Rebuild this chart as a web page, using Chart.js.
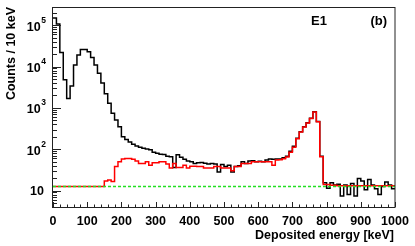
<!DOCTYPE html>
<html>
<head>
<meta charset="utf-8">
<script src="https://cdn.jsdelivr.net/npm/chart.js@4.4.1/dist/chart.umd.min.js"></script>
<style>
  html, body { margin: 0; padding: 0; background: #fff; }
</style>
</head>
<body>
<canvas id="chart-spectrum" width="415" height="246"></canvas>
<script>
// Spectre E1 — 100 bins de 10 keV, 0 à 1000 keV
const binWidth = 10;
const nBins = 100;

const totalCounts = [
  150000, 107000, 22000, 4800, 1700, 3400, 11000, 19000, 26000, 26000,
  23000, 16500, 11000, 6900, 4000, 2200, 1300, 740, 510, 350,
  200, 173, 150, 132, 120, 112, 106, 102, 97, 85,
  80, 76, 75, 68, 66, 36, 74, 64, 57, 52,
  50, 45, 47, 48, 46, 44, 45, 44, 28, 43,
  38, 41, 28, 38, 40, 50, 45, 52, 53, 50,
  51, 50, 55, 58, 57, 58, 58, 62, 68, 90,
  118, 185, 265, 350, 440, 565, 810, 470, 68, 15.5,
  11.3, 15.5, 13.6, 14.3, 7.4, 13.6, 8, 14.8, 7.4, 19.7,
  17, 10.5, 18.5, 13.6, 11, 8, 12.6, 16, 13.6, 11,
];

const selectedCounts = [
  12.5, 12.5, 12.5, 12.5, 12.5, 12.5, 12.5, 12.5, 12.5, 12.5,
  12.5, 12.5, 12.5, 12.5, 12.5, 17, 18, 16.5, 38, 50,
  58, 60, 60, 57, 52, 45, 45, 50, 41, 47,
  47, 50, 50, 44, 35, 45, 36, 36, 41, 35,
  39, 39, 38, 38, 35, 35, 35, 38, 38, 35,
  35, 35, 30, 38, 38, 45, 45, 45, 50, 50,
  50, 50, 50, 50, 41, 55, 56, 59, 65, 85,
  112, 180, 260, 345, 430, 555, 800, 460, 66, 14,
  14, 13.5, 13.5, 13, 13, 13, 13, 13, 13, 13,
  13, 13, 13, 13, 13, 13, 13, 13, 13, 13,
];

const backgroundLevel = 12.5;

const xTickLabels = ['0', '100', '200', '300', '400', '500', '600', '700', '800', '900', '1000'];
const yTickExponents = [1, 2, 3, 4, 5];

function toSteps(counts) {
  const pts = counts.map((v, i) => ({ x: i * binWidth, y: v }));
  pts.push({ x: nBins * binWidth, y: counts[counts.length - 1] });
  return pts;
}

const FONT = '"Liberation Sans", Arial, sans-serif';

const rootAxes = {
  id: 'rootAxes',
  afterDatasetsDraw(chart) {
    const { ctx, chartArea: a, scales: { x, y } } = chart;
    ctx.save();
    ctx.strokeStyle = '#222';
    ctx.lineWidth = 1;
    ctx.strokeRect(a.left - 0.5, a.top + 0.5, a.right - a.left + 0.5, a.bottom - a.top);

    // ticks x (vers l'intérieur)
    ctx.beginPath();
    for (let v = 0; v <= 1000; v += 20) {
      const px = Math.round(x.getPixelForValue(v)) + 0.5;
      const len = v % 100 === 0 ? 5 : 2.5;
      ctx.moveTo(px, a.bottom);
      ctx.lineTo(px, a.bottom - len);
    }
    // ticks y (log)
    for (let e = 0; e <= 5; e++) {
      for (let m = 1; m <= 9; m++) {
        const v = m * 10 ** e;
        if (v < y.min || v > y.max) continue;
        const py = Math.round(y.getPixelForValue(v)) + 0.5;
        ctx.moveTo(a.left, py);
        ctx.lineTo(a.left + (m === 1 ? 8 : 4), py);
      }
    }
    ctx.stroke();

    ctx.fillStyle = '#000';
    // labels x
    ctx.font = `bold 12.5px ${FONT}`;
    ctx.textAlign = 'center';
    ctx.textBaseline = 'middle';
    xTickLabels.forEach((lab) => {
      ctx.fillText(lab, x.getPixelForValue(Number(lab)), 222);
    });

    // labels y 10^n
    const right = a.left - 7;
    yTickExponents.forEach((e) => {
      const py = y.getPixelForValue(10 ** e);
      ctx.textBaseline = 'middle';
      if (e === 1) {
        ctx.font = `bold 12.5px ${FONT}`;
        ctx.textAlign = 'right';
        ctx.fillText('10', right - 2, py + 1);
        return;
      }
      ctx.font = `bold 8.5px ${FONT}`;
      const expW = ctx.measureText(String(e)).width;
      ctx.textAlign = 'right';
      ctx.fillText(String(e), right, py - 5);
      ctx.font = `bold 12.5px ${FONT}`;
      ctx.fillText('10', right - expW - 0.5, py + 2);
    });

    // titres
    ctx.font = `bold 12.5px ${FONT}`;
    ctx.textAlign = 'right';
    ctx.textBaseline = 'middle';
    ctx.fillText('Deposited energy [keV]', a.right - 1, 236);

    ctx.save();
    ctx.translate(12, a.top);
    ctx.rotate(-Math.PI / 2);
    ctx.textAlign = 'right';
    ctx.fillText('Counts / 10 keV', 0, 0);
    ctx.restore();

    ctx.font = `bold 13px ${FONT}`;
    ctx.textAlign = 'center';
    ctx.fillText('E1', 319, 21);
    ctx.textAlign = 'right';
    ctx.fillText('(b)', 387, 21);
    ctx.restore();
  },
};

new Chart(document.getElementById('chart-spectrum'), {
  type: 'line',
  data: {
    datasets: [
      {
        label: 'Background',
        data: [{ x: 0, y: backgroundLevel }, { x: 1000, y: backgroundLevel }],
        borderColor: '#22e022',
        borderWidth: 1.5,
        borderDash: [3, 2],
        order: 0,
      },
      {
        label: 'Selected',
        data: toSteps(selectedCounts),
        borderColor: '#ff0000',
        borderWidth: 1.5,
        stepped: 'before',
        order: 1,
      },
      {
        label: 'All',
        data: toSteps(totalCounts),
        borderColor: '#000000',
        borderWidth: 1.5,
        stepped: 'before',
        order: 2,
      },
    ],
  },
  options: {
    responsive: false,
    animation: false,
    devicePixelRatio: 1,
    layout: { padding: { left: 53, right: 20, top: 7, bottom: 39 } },
    elements: { point: { radius: 0 }, line: { tension: 0, fill: false } },
    plugins: { legend: { display: false }, tooltip: { enabled: false } },
    scales: {
      x: { type: 'linear', min: 0, max: 1000, display: false },
      y: { type: 'logarithmic', min: 4, max: 2.77e5, display: false },
    },
  },
  plugins: [rootAxes],
});
</script>
</body>
</html>
